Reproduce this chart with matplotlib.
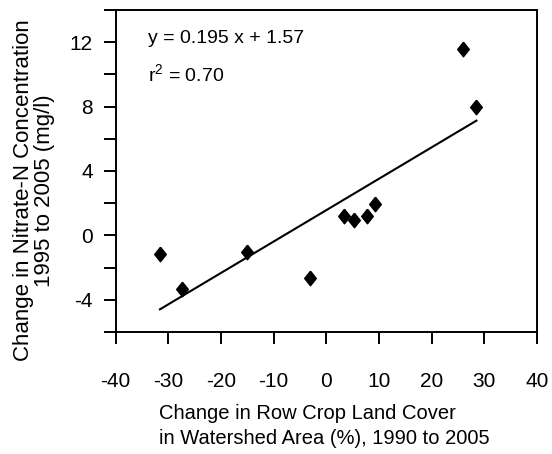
import numpy as np
import matplotlib
matplotlib.use('Agg')
from matplotlib import pyplot as plt

plt.rcParams['font.family'] = ['Liberation Sans', 'DejaVu Sans']
plt.rcParams['mathtext.default'] = 'regular'
plt.rcParams['axes.unicode_minus'] = False

# change in row crop land cover (%) vs change in nitrate-N (mg/l)
crop_change = [-31.6, -27.4, -15.1, -3.1, 3.4, 5.2, 7.8, 9.2, 25.9, 28.5]
nitrate_change = [-1.16, -3.3, -1.04, -2.65, 1.18, 0.93, 1.18, 1.97, 11.6, 8.0]
slope = 0.195
intercept = 1.57
eq_text = 'y = 0.195 x + 1.57'
r2_text = 'r$^2$ = 0.70'

xticks = [-40, -30, -20, -10, 0, 10, 20, 30, 40]
yticks = [-4, 0, 4, 8, 12]
yminor = [-6, -2, 2, 6, 10, 14]

fig = plt.figure(figsize=(5.52, 4.54), dpi=100)
ax = fig.add_axes([0.2096, 0.2687, 0.7632, 0.7093])

# diamond-ish marker, a bit taller than wide
diamond = [(0, 1), (0.8, 0), (0, -1), (-0.8, 0), (0, 1)]
ax.plot(crop_change, nitrate_change, linestyle='none', marker=diamond,
        markersize=10.5, color='black', zorder=3)

xl = np.array([min(crop_change), max(crop_change)])
ax.plot(xl, slope * xl + intercept, color='black', linewidth=1.5)

ax.text(-33.9, 11.94, eq_text, fontsize=14, va='baseline', ha='left')
ax.text(-33.9, 9.58, r2_text, fontsize=14, va='baseline', ha='left')

ax.set_xlim(-40, 40)
ax.set_ylim(-6, 14)
ax.set_xticks(xticks)
ax.set_yticks(yticks)
ax.set_yticks(yminor, minor=True)

for s in ax.spines.values():
    s.set_linewidth(1.4)

ax.tick_params(axis='x', which='both', direction='out', length=8.6, width=1.4,
               pad=20, labelsize=15)
ax.tick_params(axis='y', which='both', direction='out', length=8.6, width=1.4,
               pad=8, labelsize=15)

ax.set_xlabel('Change in Row Crop Land Cover\nin Watershed Area (%), 1990 to 2005',
              fontsize=14.5, linespacing=1.4, multialignment='left', va='top')
ax.xaxis.set_label_coords(0.495, -0.225)

ax.set_ylabel('Change in Nitrate-N Concentration\n1995 to 2005 (mg/l)',
              fontsize=16, linespacing=1.0)
ax.yaxis.set_label_coords(-0.145, 0.44)

fig.savefig('out.png', dpi=100)
